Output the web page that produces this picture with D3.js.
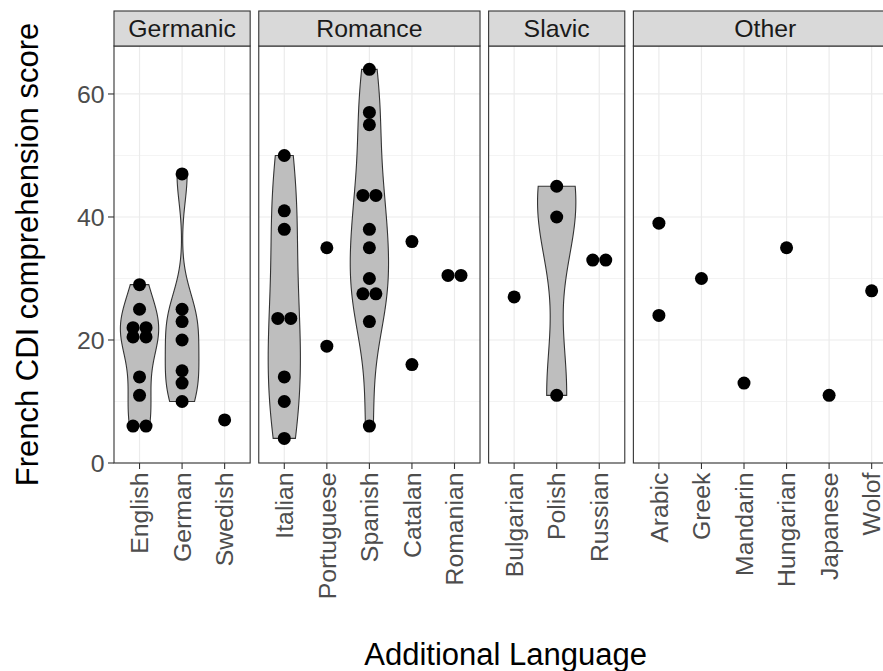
<!DOCTYPE html>
<html>
<head>
<meta charset="utf-8">
<script src="https://cdn.jsdelivr.net/npm/d3@7"></script>
<style>
  body { margin: 0; background: #fff; }
  svg { display: block; }
</style>
</head>
<body>
<svg id="chart" width="883" height="671"></svg>
<script>
// Language families (facets) and the languages within each
const families = ["Germanic", "Romance", "Slavic", "Other"];

const germanicLanguages = ["English", "German", "Swedish"];
const germanicScores = [
  [29, 25, 22, 22, 20.5, 20.5, 14, 11, 6, 6],
  [47, 25, 23, 20, 15, 13, 10],
  [7]
];

const romanceLanguages = ["Italian", "Portuguese", "Spanish", "Catalan", "Romanian"];
const romanceScores = [
  [50, 41, 38, 23.5, 23.5, 14, 10, 4],
  [35, 19],
  [64, 57, 55, 43.5, 43.5, 38, 35, 30, 27.5, 27.5, 23, 6],
  [36, 16],
  [30.5, 30.5]
];

const slavicLanguages = ["Bulgarian", "Polish", "Russian"];
const slavicScores = [
  [27],
  [45, 40, 11],
  [33, 33]
];

const otherLanguages = ["Arabic", "Greek", "Mandarin", "Hungarian", "Japanese", "Wolof"];
const otherScores = [[39, 24], [30], [13], [35], [11], [28]];

const yMajorTicks = [0, 20, 40, 60];
const yMinorTicks = [10, 30, 50];
const yTitle = "French CDI comprehension score";
const xTitle = "Additional Language";

// ---- layout ----
const svg = d3.select("#chart");
const panelTop = 46, panelBottom = 463, stripTop = 11;
const panelLeft = 114, unit = 42.55, gap = 8.6;
const fontFamily = "'Liberation Sans', Arial, Helvetica, sans-serif";
const lineCol = "#333333", gridCol = "#EBEBEB";
const dotR = 6.5;

const languageLists = [germanicLanguages, romanceLanguages, slavicLanguages, otherLanguages];
const scoreLists = [germanicScores, romanceScores, slavicScores, otherScores];

const y = d3.scaleLinear().domain([0, 67.8]).range([panelBottom, panelTop]);

// Panels are as wide as their number of categories (free x space)
let cursor = panelLeft;
const panels = families.map((fam, i) => {
  const langs = languageLists[i];
  const w = (langs.length - 1 + 1.2) * unit;
  const x = d3.scalePoint().domain(langs).range([cursor, cursor + w]).padding(0.6);
  const p = { family: fam, languages: langs, scores: scoreLists[i], x0: cursor, width: w, x };
  cursor += w + gap;
  return p;
});

// ---- kernel density helpers (gaussian kernel, nrd0 bandwidth) ----
function bwNrd0(values) {
  const s = values.slice().sort(d3.ascending);
  const hi = d3.deviation(s);
  const iqr = d3.quantileSorted(s, 0.75) - d3.quantileSorted(s, 0.25);
  let lo = Math.min(hi, iqr / 1.34);
  if (!(lo > 0)) lo = hi || Math.abs(s[0]) || 1;
  return 0.9 * lo * Math.pow(s.length, -0.2);
}
function kde(values, n = 512) {
  const bw = bwNrd0(values);
  const lo = d3.min(values), hi = d3.max(values);
  const out = [];
  for (let k = 0; k < n; k++) {
    const t = lo + (hi - lo) * k / (n - 1);
    let sum = 0;
    for (const v of values) {
      const z = (t - v) / bw;
      sum += Math.exp(-0.5 * z * z);
    }
    out.push({ y: t, d: sum / (values.length * bw * Math.sqrt(2 * Math.PI)) });
  }
  return out;
}

const g = svg.append("g");

panels.forEach(p => {
  const pg = g.append("g");

  // panel background
  pg.append("rect")
    .attr("x", p.x0).attr("y", panelTop)
    .attr("width", p.width).attr("height", panelBottom - panelTop)
    .attr("fill", "#fff");

  // minor and major horizontal grid
  pg.selectAll(".minor").data(yMinorTicks).join("line")
    .attr("x1", p.x0).attr("x2", p.x0 + p.width)
    .attr("y1", d => y(d)).attr("y2", d => y(d))
    .attr("stroke", gridCol).attr("stroke-width", 0.6);
  pg.selectAll(".major").data(yMajorTicks).join("line")
    .attr("x1", p.x0).attr("x2", p.x0 + p.width)
    .attr("y1", d => y(d)).attr("y2", d => y(d))
    .attr("stroke", gridCol).attr("stroke-width", 1.2);
  // vertical grid at each language
  pg.selectAll(".vgrid").data(p.languages).join("line")
    .attr("x1", d => p.x(d)).attr("x2", d => p.x(d))
    .attr("y1", panelTop).attr("y2", panelBottom)
    .attr("stroke", gridCol).attr("stroke-width", 1.2);

  // violins for languages with at least three scores, area-scaled within the panel
  const dens = p.languages.map((lang, i) =>
    p.scores[i].length >= 3 ? { lang, pts: kde(p.scores[i]) } : null).filter(Boolean);
  const maxD = d3.max(dens, v => d3.max(v.pts, q => q.d)) || 1;
  const halfMax = 0.9 * p.x.step() / 2;
  dens.forEach(v => {
    const cx = p.x(v.lang);
    const right = v.pts.map(q => [cx + halfMax * q.d / maxD, y(q.y)]);
    const left = v.pts.slice().reverse().map(q => [cx - halfMax * q.d / maxD, y(q.y)]);
    pg.append("path")
      .attr("d", d3.line()(right.concat(left)) + "Z")
      .attr("fill", "#BEBEBE")
      .attr("stroke", lineCol)
      .attr("stroke-width", 1.1);
  });

  // dots, identical scores placed side by side
  const dots = [];
  p.languages.forEach((lang, i) => {
    const groups = d3.group(p.scores[i], v => v);
    groups.forEach((vals, val) => {
      vals.forEach((v, k) => {
        dots.push({ cx: p.x(lang) + (k - (vals.length - 1) / 2) * 2 * dotR, cy: y(val) });
      });
    });
  });
  pg.selectAll(".dot").data(dots).join("circle")
    .attr("cx", d => d.cx).attr("cy", d => d.cy).attr("r", dotR)
    .attr("fill", "#000");

  // panel border
  pg.append("rect")
    .attr("x", p.x0).attr("y", panelTop)
    .attr("width", p.width).attr("height", panelBottom - panelTop)
    .attr("fill", "none").attr("stroke", lineCol).attr("stroke-width", 1.1);

  // strip
  pg.append("rect")
    .attr("x", p.x0).attr("y", stripTop)
    .attr("width", p.width).attr("height", panelTop - stripTop)
    .attr("fill", "#D9D9D9").attr("stroke", lineCol).attr("stroke-width", 1.1);
  pg.append("text")
    .attr("x", p.x0 + p.width / 2).attr("y", (stripTop + panelTop) / 2)
    .attr("dy", "0.35em")
    .attr("text-anchor", "middle")
    .attr("font-family", fontFamily).attr("font-size", 24.8)
    .attr("fill", "#1A1A1A")
    .text(p.family);

  // x axis: ticks and rotated labels
  const xa = pg.append("g");
  xa.selectAll("line").data(p.languages).join("line")
    .attr("x1", d => p.x(d)).attr("x2", d => p.x(d))
    .attr("y1", panelBottom).attr("y2", panelBottom + 6)
    .attr("stroke", lineCol).attr("stroke-width", 1.1);
  xa.selectAll("text").data(p.languages).join("text")
    .attr("transform", d => `translate(${p.x(d)},${panelBottom + 9.5}) rotate(-90)`)
    .attr("dy", "0.35em")
    .attr("text-anchor", "end")
    .attr("font-family", fontFamily).attr("font-size", 24.8)
    .attr("fill", "#4D4D4D")
    .text(d => d);
});

// y axis on the first panel
const ya = g.append("g");
ya.selectAll("line").data(yMajorTicks).join("line")
  .attr("x1", panelLeft - 6).attr("x2", panelLeft)
  .attr("y1", d => y(d)).attr("y2", d => y(d))
  .attr("stroke", lineCol).attr("stroke-width", 1.1);
ya.selectAll("text").data(yMajorTicks).join("text")
  .attr("x", panelLeft - 9.5).attr("y", d => y(d))
  .attr("dy", "0.35em")
  .attr("text-anchor", "end")
  .attr("font-family", fontFamily).attr("font-size", 24.8)
  .attr("fill", "#4D4D4D")
  .text(d => d);

// axis titles
const lastPanel = panels[panels.length - 1];
g.append("text")
  .attr("x", (panelLeft + lastPanel.x0 + lastPanel.width) / 2)
  .attr("y", 665)
  .attr("text-anchor", "middle")
  .attr("font-family", fontFamily).attr("font-size", 31)
  .attr("fill", "#000")
  .text(xTitle);
g.append("text")
  .attr("transform", `translate(37.5,${(panelTop + panelBottom) / 2}) rotate(-90)`)
  .attr("text-anchor", "middle")
  .attr("font-family", fontFamily).attr("font-size", 31)
  .attr("fill", "#000")
  .text(yTitle);
</script>
</body>
</html>
